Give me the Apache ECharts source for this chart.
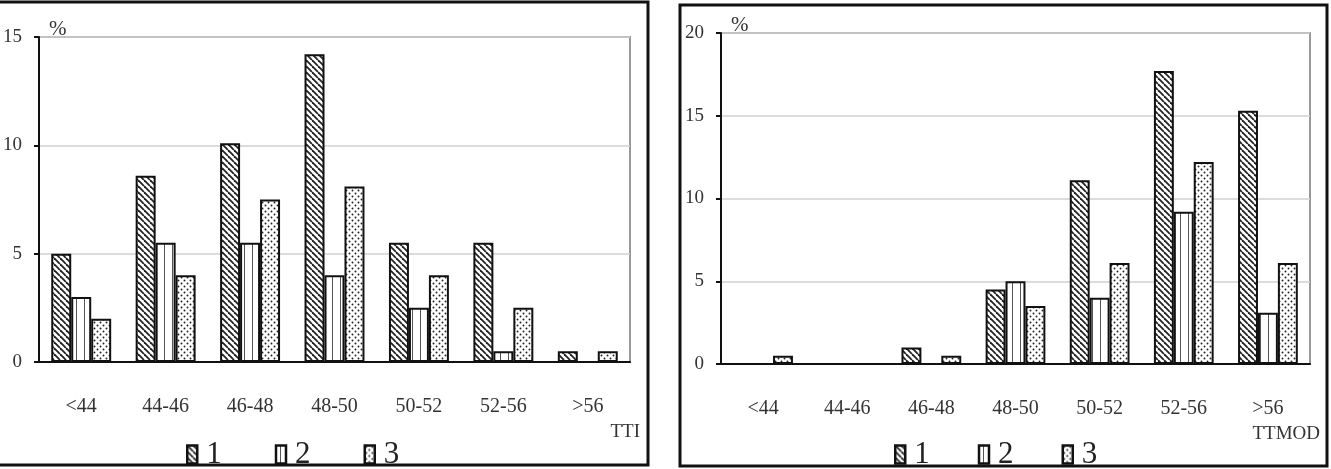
<!DOCTYPE html>
<html>
<head>
<meta charset="utf-8">
<script src="https://cdn.jsdelivr.net/npm/echarts@6/dist/echarts.min.js"></script>
<style>
    html, body { margin: 0; padding: 0; background: #fff; }
    #main { width: 1331px; height: 469px; }
</style>
</head>
<body>
<div id="main"></div>
<script>
    // 数据
    const categories = ["<44", "44-46", "46-48", "48-50", "50-52", "52-56", ">56"];
    const seriesNames = ["1", "2", "3"];
    // 左图 TTI
    const tti1 = [5.0, 8.6, 10.1, 14.2, 5.5, 5.5, 0.5];
    const tti2 = [3.0, 5.5, 5.5, 4.0, 2.5, 0.5, 0];
    const tti3 = [2.0, 4.0, 7.5, 8.1, 4.0, 2.5, 0.5];
    // 右图 TTMOD
    const mod1 = [0, 0, 1.0, 4.5, 11.1, 17.7, 15.3];
    const mod2 = [0, 0, 0, 5.0, 4.0, 9.2, 3.1];
    const mod3 = [0.5, 0, 0.5, 3.5, 6.1, 12.2, 6.1];
    const ttiTicks = { max: 15, interval: 5 };
    const modTicks = { max: 20, interval: 5 };

    const FONT = "Liberation Serif";

    // 填充图案
    const makePattern = (w, h, draw) => {
        const c = document.createElement("canvas");
        c.width = w;
        c.height = h;
        const ctx = c.getContext("2d");
        ctx.fillStyle = "#fff";
        ctx.fillRect(0, 0, w, h);
        draw(ctx, w, h);
        return { image: c, repeat: "repeat" };
    };

    const hatch = () =>
        makePattern(6, 6, (ctx, s) => {
            ctx.strokeStyle = "#222";
            ctx.lineWidth = 1.8;
            [-s, 0, s].forEach((x0) => {
                ctx.beginPath();
                ctx.moveTo(x0, 0);
                ctx.lineTo(x0 + s, s);
                ctx.stroke();
            });
        });

    const vlines = () =>
        makePattern(8, 4, (ctx) => {
            ctx.fillStyle = "#555";
            ctx.fillRect(4, 0, 1, 4);
        });

    const dots = () =>
        makePattern(6, 6, (ctx) => {
            ctx.fillStyle = "#222";
            [[1.5, 1.5], [4.5, 4.5]].forEach(([x, y]) => {
                ctx.beginPath();
                ctx.arc(x, y, 0.95, 0, Math.PI * 2);
                ctx.fill();
            });
        });

    const patterns = [hatch, vlines, dots];

    const xAxisOf = (gridIndex, name) => ({
        type: "category",
        gridIndex,
        data: categories,
        name,
        nameLocation: "end",
        nameGap: 10,
        nameTextStyle: {
            fontFamily: FONT,
            fontSize: 19,
            color: "#333",
            align: "right",
            verticalAlign: "top",
            padding: [61, 0, 0, 0],
        },
        axisLine: { lineStyle: { color: "#111", width: 2 } },
        axisTick: { length: 10, lineStyle: { color: "#111", width: 2 } },
        axisLabel: { margin: 35, fontFamily: FONT, fontSize: 20, color: "#333" },
    });

    const yAxisOf = (gridIndex, ticks) => ({
        type: "value",
        gridIndex,
        min: 0,
        max: ticks.max,
        interval: ticks.interval,
        name: "%",
        nameLocation: "end",
        nameGap: 0,
        nameTextStyle: {
            fontFamily: FONT,
            fontSize: 21,
            color: "#333",
            align: "left",
            verticalAlign: "bottom",
            padding: [0, 0, -3, 10],
        },
        axisLine: { show: true, lineStyle: { color: "#111", width: 2 } },
        axisTick: { show: true, length: 5, lineStyle: { color: "#111", width: 2 } },
        axisLabel: { margin: 17, fontFamily: FONT, fontSize: 19, color: "#333" },
        splitLine: { lineStyle: { color: "#d0d0d0", width: 1.5 } },
    });

    const barSeries = (values, i, axisIndex) => ({
        name: seriesNames[i],
        type: "bar",
        xAxisIndex: axisIndex,
        yAxisIndex: axisIndex,
        data: values,
        barGap: "0%",
        barCategoryGap: "29%",
        itemStyle: { color: patterns[i](), borderColor: "#111", borderWidth: 2 },
    });

    const legendOf = (left, gap) => ({
        data: seriesNames,
        left,
        top: 434,
        orient: "horizontal",
        icon: "rect",
        itemWidth: 10,
        itemHeight: 18,
        itemGap: gap,
        itemStyle: { borderWidth: 2.5, borderColor: "#111" },
        textStyle: { fontFamily: FONT, fontSize: 31, color: "#222", padding: [5, 0, 0, 4] },
    });

    const chart = echarts.init(document.getElementById("main"));
    chart.setOption({
        animation: false,
        backgroundColor: "#fff",
        grid: [
            { left: 36, top: 37, width: 594, height: 325, show: true, borderColor: "#999", borderWidth: 2 },
            { left: 721, top: 33, width: 589, height: 331, show: true, borderColor: "#999", borderWidth: 2 },
        ],
        xAxis: [xAxisOf(0, "TTI"), xAxisOf(1, "TTMOD")],
        yAxis: [yAxisOf(0, ttiTicks), yAxisOf(1, modTicks)],
        legend: [legendOf(181, 53), legendOf(889, 48)],
        series: [
            barSeries(tti1, 0, 0),
            barSeries(tti2, 1, 0),
            barSeries(tti3, 2, 0),
            barSeries(mod1, 0, 1),
            barSeries(mod2, 1, 1),
            barSeries(mod3, 2, 1),
        ],
        graphic: [
            // 外框
            {
                type: "rect",
                shape: { x: -4, y: 2, width: 652, height: 463 },
                style: { fill: "none", stroke: "#111", lineWidth: 3 },
                silent: true,
            },
            {
                type: "rect",
                shape: { x: 680, y: 5, width: 647, height: 461 },
                style: { fill: "none", stroke: "#111", lineWidth: 3 },
                silent: true,
            },
        ],
    });
    window.addEventListener("resize", () => chart.resize());
</script>
</body>
</html>
